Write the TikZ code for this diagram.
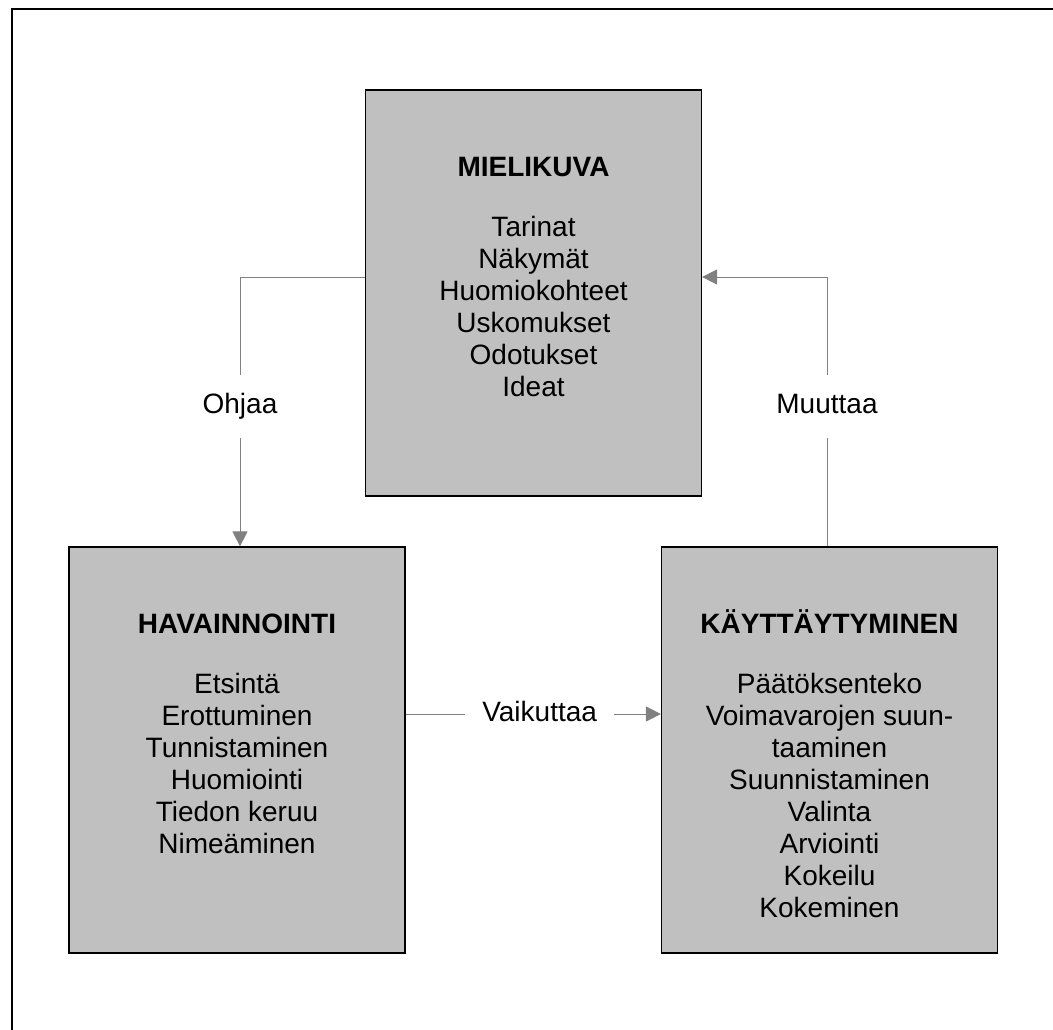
\documentclass[tikz,border=0pt]{standalone}
\usepackage{fontspec}
\setmainfont{Liberation Sans}
\usetikzlibrary{arrows.meta}
\definecolor{boxgray}{HTML}{C0C0C0}
\definecolor{linegray}{HTML}{808080}
% fixed height of a box's first line, so every title baseline sits alike
\newcommand{\firstline}{\rule{0pt}{30pt}}
\begin{document}
\begin{tikzpicture}[x=1pt,y=-1pt,
  box/.style={draw=black, line width=1.2pt, fill=boxgray, rectangle,
    minimum width=336pt, minimum height=406pt, inner sep=0pt},
  boxtext/.style={anchor=north, align=center, inner sep=0pt,
    font=\fontsize{28}{32}\selectfont},
  conn/.style={draw=linegray, line width=1pt,
    -{Triangle[length=15pt,width=15pt,fill=linegray]}},
  lbl/.style={fill=white, inner xsep=17pt, inner ysep=18pt,
    text height=21pt, text depth=6pt, font=\fontsize{28}{32}\selectfont}]
  \useasboundingbox (0,0) rectangle (1053,1030);

  % page frame (top and left edges)
  \draw[line width=2pt] (1060,9) -- (12,9) -- (12,1040);

  % the three boxes
  \node[box] (mk) at (533.5,293) {};
  \node[box] (hv) at (237,750) {};
  \node[box] (kt) at (829.5,750) {};

  % box contents
  \node[boxtext] (mktext) at ([yshift=-57pt]mk.north)
    {\firstline\textbf{MIELIKUVA}\\[28pt]Tarinat\\Näkymät\\Huomiokohteet\\Uskomukset\\Odotukset\\Ideat};
  \node[boxtext] (hvtext) at ([yshift=-57pt]hv.north)
    {\firstline\textbf{HAVAINNOINTI}\\[28pt]Etsintä\\Erottuminen\\Tunnistaminen\\Huomiointi\\Tiedon keruu\\Nimeäminen};
  \node[boxtext] (kttext) at ([yshift=-57pt]kt.north)
    {\firstline\textbf{KÄYTTÄYTYMINEN}\\[28pt]Päätöksenteko\\Voimavarojen suun-\\taaminen\\Suunnistaminen\\Valinta\\Arviointi\\Kokeilu\\Kokeminen};

  % connectors
  \coordinate (ohj) at (240,277);
  \coordinate (muu) at (827,277);
  \coordinate (vai) at (0,714);

  \draw[conn] (mk.west |- ohj) -- (ohj)
    -- node[lbl, pos=0.48] (ohjlbl) {Ohjaa} (ohj |- hv.north);
  \draw[conn] (muu |- kt.north)
    -- node[lbl, pos=0.52] (muulbl) {Muuttaa} (muu) -- (mk.east |- muu);
  \draw[conn] (hv.east |- vai)
    -- node[lbl, pos=0.525] (vailbl) {Vaikuttaa} (kt.west |- vai);
\end{tikzpicture}
\end{document}
